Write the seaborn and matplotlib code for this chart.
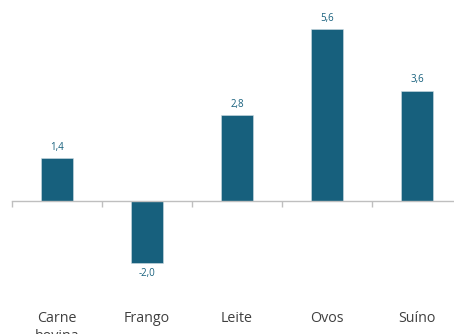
import matplotlib
matplotlib.use("Agg")
import matplotlib.pyplot as plt
import seaborn as sns
import pandas as pd
import numpy as np

categories = ["Carne\nbovina", "Frango", "Leite", "Ovos", "Suíno"]
values = [1.4, -2.0, 2.8, 5.6, 3.6]
value_labels = ["1,4", "-2,0", "2,8", "5,6", "3,6"]

bar_color = "#17607D"
axis_color = "#BFBFBF"

sns.set_theme(style="white")
plt.rcParams["font.family"] = ["Open Sans", "DejaVu Sans"]

df = pd.DataFrame({"cat": categories, "val": values})

fig = plt.figure(figsize=(4.54, 3.34), dpi=100)
ax = fig.add_axes([12 / 454, 54 / 334, 450 / 454, 280 / 334])

sns.barplot(data=df, x="cat", y="val", color=bar_color, width=0.36,
            saturation=1, ax=ax, edgecolor="#d0dde3", linewidth=0.4)

ax.set_xlim(-0.5, len(categories) - 0.5)
ax.set_ylim(-2.57, 6.55)

for sp in ["top", "right", "left"]:
    ax.spines[sp].set_visible(False)
ax.spines["bottom"].set_position(("data", 0))
ax.spines["bottom"].set_color(axis_color)
ax.spines["bottom"].set_linewidth(1.0)

ax.set_yticks([])
ax.set_xlabel("")
ax.set_ylabel("")

# category boundary ticks
ax.set_xticks(np.arange(-0.5, len(categories)), minor=True)
ax.tick_params(axis="x", which="minor", direction="out", length=4,
               color=axis_color, width=1.0, bottom=True)
ax.tick_params(axis="x", which="major", length=0, pad=79,
               labelsize=10.3, labelcolor="#404040")
ax.set_xticks(range(len(categories)))
ax.set_xticklabels(categories, linespacing=1.25)

for i, (v, lab) in enumerate(zip(values, value_labels)):
    off = 0.17 if v >= 0 else -0.17
    ax.text(i, v + off, lab, ha="center", va="bottom" if v >= 0 else "top",
            fontsize=7, color=bar_color)

fig.savefig("out.png", dpi=100)
